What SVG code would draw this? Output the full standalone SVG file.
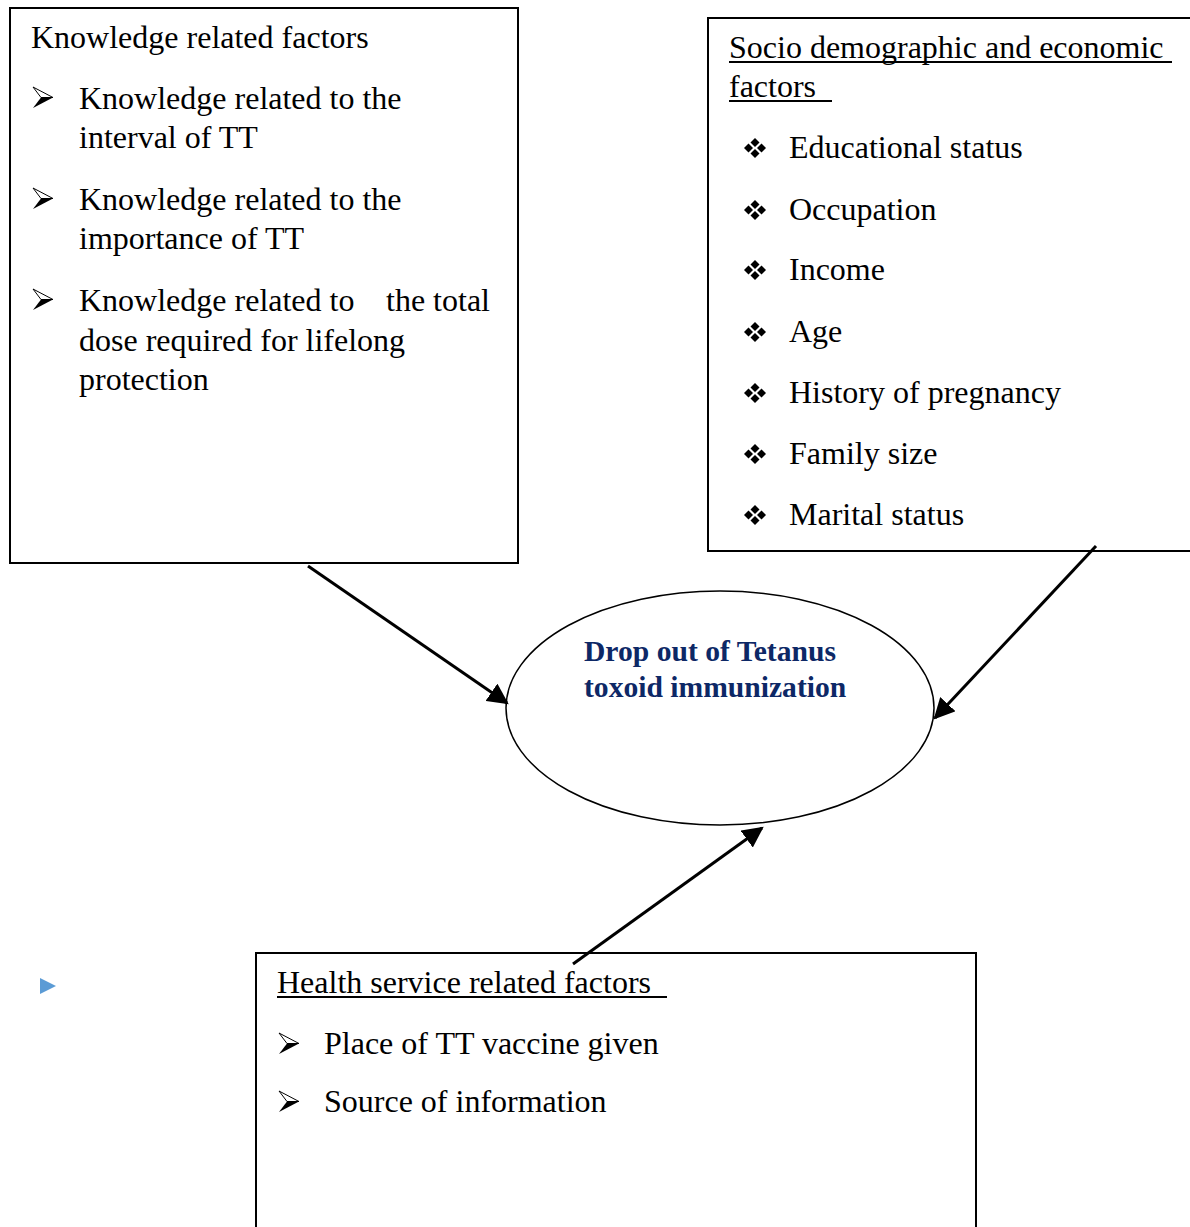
<svg xmlns="http://www.w3.org/2000/svg" width="1190" height="1227" viewBox="0 0 1190 1227">
<style>
.t{font-family:"Liberation Serif","Times New Roman",serif;font-size:32px;fill:#000}
.c{font-family:"Liberation Serif","Times New Roman",serif;font-size:29.6px;font-weight:bold;fill:#0d2866}
.box{fill:#fff;stroke:#000;stroke-width:2}
.u{stroke:#000;stroke-width:2}
.conn{stroke:#000;stroke-width:3;fill:none}
</style>
<defs>
<marker id="ah" viewBox="0 0 10 10" refX="9" refY="5" markerWidth="7" markerHeight="7" markerUnits="strokeWidth" orient="auto">
<path d="M0,0 L10,5 L0,10 Z" fill="#000"/>
</marker>
<g id="arr">
<path d="M0,0 L20,10.5 L8,10.5 Z" fill="#fff" stroke="#000" stroke-width="1"/>
<path d="M8,10.5 L20,10.5 L0,21 Z" fill="#000"/>
</g>
<g id="dia" fill="#000">
<path d="M0,-10 L4.5,-5.5 L0,-1 L-4.5,-5.5 Z"/>
<path d="M0,10 L4.5,5.5 L0,1 L-4.5,5.5 Z"/>
<path d="M-11,0 L-6.5,-4.5 L-2,0 L-6.5,4.5 Z"/>
<path d="M11,0 L6.5,-4.5 L2,0 L6.5,4.5 Z"/>
</g>
</defs>
<rect width="1190" height="1227" fill="#fff"/>

<g id="knowledge">
<rect class="box" x="10" y="8" width="508" height="555"/>
<text class="t" x="31" y="48">Knowledge related factors</text>
<use href="#arr" x="33" y="87"/>
<text class="t" x="79" y="109">Knowledge related to the</text>
<text class="t" x="79" y="148">interval of TT</text>
<use href="#arr" x="33" y="188"/>
<text class="t" x="79" y="210">Knowledge related to the</text>
<text class="t" x="79" y="249">importance of TT</text>
<use href="#arr" x="33" y="289"/>
<text class="t" x="79" y="311">Knowledge related to</text>
<text class="t" x="386" y="311">the total</text>
<text class="t" x="79" y="351">dose required for lifelong</text>
<text class="t" x="79" y="390">protection</text>
</g>

<g id="socio">
<path class="box" d="M1192,18 L708,18 L708,551 L1192,551"/>
<text class="t" x="729" y="58">Socio demographic and economic</text>
<line class="u" x1="729" y1="62" x2="1172" y2="62"/>
<text class="t" x="729" y="97">factors</text>
<line class="u" x1="729" y1="101" x2="832" y2="101"/>
<use href="#dia" x="755" y="148"/>
<text class="t" x="789" y="158">Educational status</text>
<use href="#dia" x="755" y="210"/>
<text class="t" x="789" y="220">Occupation</text>
<use href="#dia" x="755" y="270"/>
<text class="t" x="789" y="280">Income</text>
<use href="#dia" x="755" y="332"/>
<text class="t" x="789" y="342">Age</text>
<use href="#dia" x="755" y="393"/>
<text class="t" x="789" y="403">History of pregnancy</text>
<use href="#dia" x="755" y="454"/>
<text class="t" x="789" y="464">Family size</text>
<use href="#dia" x="755" y="515"/>
<text class="t" x="789" y="525">Marital status</text>
</g>

<g id="dropout">
<ellipse cx="720" cy="708" rx="214" ry="117" fill="#fff" stroke="#000" stroke-width="1.5"/>
<text class="c" x="584" y="661">Drop out of Tetanus</text>
<text class="c" x="584" y="697">toxoid immunization</text>
</g>

<g id="health">
<path class="box" d="M256,1230 L256,953 L976,953 L976,1230"/>
<text class="t" x="277" y="993">Health service related factors</text>
<line class="u" x1="277" y1="997" x2="667" y2="997"/>
<use href="#arr" x="279" y="1033"/>
<text class="t" x="324" y="1054">Place of TT vaccine given</text>
<use href="#arr" x="279" y="1091"/>
<text class="t" x="324" y="1112">Source of information</text>
</g>

<g id="marker-left">
<path d="M40,978 L56,986 L40,994 Z" fill="#5b9bd5"/>
</g>

<g id="connectors">
<line class="conn" x1="308" y1="566" x2="507" y2="703" marker-end="url(#ah)"/>
<line class="conn" x1="1096" y1="546" x2="935" y2="718" marker-end="url(#ah)"/>
<line class="conn" x1="573" y1="964" x2="762" y2="828" marker-end="url(#ah)"/>
</g>
</svg>
